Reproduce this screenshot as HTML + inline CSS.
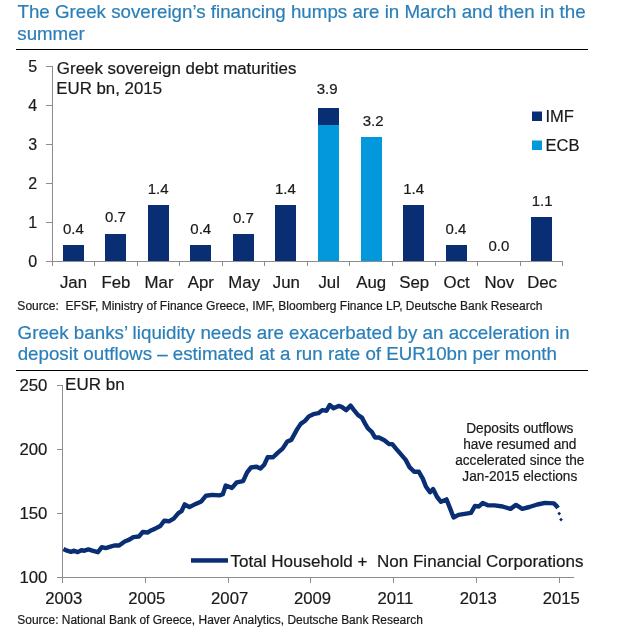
<!DOCTYPE html>
<html><head><meta charset="utf-8"><style>
html,body{margin:0;padding:0;background:#fff;width:634px;height:639px;overflow:hidden}
svg{display:block;will-change:transform}
text{font-family:"Liberation Sans", sans-serif;stroke-width:0.2px}
</style></head><body>
<svg width="634" height="639" viewBox="0 0 634 639">
<rect width="634" height="639" fill="#fff"/>
<text transform="translate(17.48,17.8) scale(1,1.03)" font-size="18.7" fill="#2a7fb8" stroke="#2a7fb8" textLength="568.15" lengthAdjust="spacingAndGlyphs">The Greek sovereign’s financing humps are in March and then in the</text>
<text transform="translate(17.3,39.9) scale(1,1.03)" font-size="18.7" fill="#2a7fb8" stroke="#2a7fb8" text-anchor="start" >summer</text>
<rect x="16" y="49" width="572" height="1" fill="#000"/>
<rect x="52" y="66" width="1" height="200" fill="#8c8c8c"/>
<rect x="46" y="261" width="6" height="1" fill="#8c8c8c"/>
<text x="37.2" y="267.1" font-size="16" fill="#1a1a1a" stroke="#1a1a1a" text-anchor="end" >0</text>
<rect x="46" y="222" width="6" height="1" fill="#8c8c8c"/>
<text x="37.2" y="228.1" font-size="16" fill="#1a1a1a" stroke="#1a1a1a" text-anchor="end" >1</text>
<rect x="46" y="183" width="6" height="1" fill="#8c8c8c"/>
<text x="37.2" y="189.1" font-size="16" fill="#1a1a1a" stroke="#1a1a1a" text-anchor="end" >2</text>
<rect x="46" y="144" width="6" height="1" fill="#8c8c8c"/>
<text x="37.2" y="150.1" font-size="16" fill="#1a1a1a" stroke="#1a1a1a" text-anchor="end" >3</text>
<rect x="46" y="105" width="6" height="1" fill="#8c8c8c"/>
<text x="37.2" y="111.1" font-size="16" fill="#1a1a1a" stroke="#1a1a1a" text-anchor="end" >4</text>
<rect x="46" y="66" width="6" height="1" fill="#8c8c8c"/>
<text x="37.2" y="72.1" font-size="16" fill="#1a1a1a" stroke="#1a1a1a" text-anchor="end" >5</text>
<rect x="52" y="261" width="511" height="1" fill="#8c8c8c"/>
<rect x="52" y="261" width="1" height="5" fill="#8c8c8c"/>
<rect x="94" y="261" width="1" height="5" fill="#8c8c8c"/>
<rect x="137" y="261" width="1" height="5" fill="#8c8c8c"/>
<rect x="179" y="261" width="1" height="5" fill="#8c8c8c"/>
<rect x="222" y="261" width="1" height="5" fill="#8c8c8c"/>
<rect x="264" y="261" width="1" height="5" fill="#8c8c8c"/>
<rect x="307" y="261" width="1" height="5" fill="#8c8c8c"/>
<rect x="349" y="261" width="1" height="5" fill="#8c8c8c"/>
<rect x="392" y="261" width="1" height="5" fill="#8c8c8c"/>
<rect x="435" y="261" width="1" height="5" fill="#8c8c8c"/>
<rect x="477" y="261" width="1" height="5" fill="#8c8c8c"/>
<rect x="520" y="261" width="1" height="5" fill="#8c8c8c"/>
<rect x="562" y="261" width="1" height="5" fill="#8c8c8c"/>
<text x="73.45" y="287.7" font-size="16.8" fill="#1a1a1a" stroke="#1a1a1a" text-anchor="middle" >Jan</text>
<text x="116.0" y="287.7" font-size="16.8" fill="#1a1a1a" stroke="#1a1a1a" text-anchor="middle" >Feb</text>
<text x="159.05" y="287.7" font-size="16.8" fill="#1a1a1a" stroke="#1a1a1a" text-anchor="middle" >Mar</text>
<text x="200.9" y="287.7" font-size="16.8" fill="#1a1a1a" stroke="#1a1a1a" text-anchor="middle" >Apr</text>
<text x="244.2" y="287.7" font-size="16.8" fill="#1a1a1a" stroke="#1a1a1a" text-anchor="middle" >May</text>
<text x="286.3" y="287.7" font-size="16.8" fill="#1a1a1a" stroke="#1a1a1a" text-anchor="middle" >Jun</text>
<text x="329.2" y="287.7" font-size="16.8" fill="#1a1a1a" stroke="#1a1a1a" text-anchor="middle" >Jul</text>
<text x="371.15" y="287.7" font-size="16.8" fill="#1a1a1a" stroke="#1a1a1a" text-anchor="middle" >Aug</text>
<text x="414.2" y="287.7" font-size="16.8" fill="#1a1a1a" stroke="#1a1a1a" text-anchor="middle" >Sep</text>
<text x="456.65" y="287.7" font-size="16.8" fill="#1a1a1a" stroke="#1a1a1a" text-anchor="middle" >Oct</text>
<text x="499.35" y="287.7" font-size="16.8" fill="#1a1a1a" stroke="#1a1a1a" text-anchor="middle" >Nov</text>
<text x="542.05" y="287.7" font-size="16.8" fill="#1a1a1a" stroke="#1a1a1a" text-anchor="middle" >Dec</text>
<rect x="63" y="245" width="21" height="16" fill="#0a2e74"/>
<rect x="105" y="234" width="21" height="27" fill="#0a2e74"/>
<rect x="148" y="205" width="21" height="56" fill="#0a2e74"/>
<rect x="190" y="245" width="21" height="16" fill="#0a2e74"/>
<rect x="233" y="234" width="21" height="27" fill="#0a2e74"/>
<rect x="275" y="205" width="21" height="56" fill="#0a2e74"/>
<rect x="318" y="108" width="21" height="17" fill="#0a2e74"/>
<rect x="318" y="125" width="21" height="136" fill="#0398dc"/>
<rect x="361" y="137" width="21" height="124" fill="#0398dc"/>
<rect x="403" y="205" width="21" height="56" fill="#0a2e74"/>
<rect x="446" y="245" width="21" height="16" fill="#0a2e74"/>
<rect x="531" y="217" width="21" height="44" fill="#0a2e74"/>
<text x="62.91" y="233.7" font-size="15" fill="#1a1a1a" stroke="#1a1a1a" text-anchor="start" >0.4</text>
<text x="105.11" y="222.4" font-size="15" fill="#1a1a1a" stroke="#1a1a1a" text-anchor="start" >0.7</text>
<text x="147.66" y="193.7" font-size="15" fill="#1a1a1a" stroke="#1a1a1a" text-anchor="start" >1.4</text>
<text x="190.31" y="233.9" font-size="15" fill="#1a1a1a" stroke="#1a1a1a" text-anchor="start" >0.4</text>
<text x="232.91" y="222.5" font-size="15" fill="#1a1a1a" stroke="#1a1a1a" text-anchor="start" >0.7</text>
<text x="274.96" y="194.1" font-size="15" fill="#1a1a1a" stroke="#1a1a1a" text-anchor="start" >1.4</text>
<text x="316.68" y="93.5" font-size="15" fill="#1a1a1a" stroke="#1a1a1a" text-anchor="start" >3.9</text>
<text x="362.73" y="125.5" font-size="15" fill="#1a1a1a" stroke="#1a1a1a" text-anchor="start" >3.2</text>
<text x="403.26" y="193.8" font-size="15" fill="#1a1a1a" stroke="#1a1a1a" text-anchor="start" >1.4</text>
<text x="445.61" y="233.7" font-size="15" fill="#1a1a1a" stroke="#1a1a1a" text-anchor="start" >0.4</text>
<text x="488.41" y="250.7" font-size="15" fill="#1a1a1a" stroke="#1a1a1a" text-anchor="start" >0.0</text>
<text x="531.76" y="205.6" font-size="15" fill="#1a1a1a" stroke="#1a1a1a" text-anchor="start" >1.1</text>
<text transform="translate(56.85,73.6)" font-size="17" fill="#1a1a1a" stroke="#1a1a1a" textLength="239.56" lengthAdjust="spacingAndGlyphs">Greek sovereign debt maturities</text>
<text transform="translate(56.32,93.8)" font-size="17" fill="#1a1a1a" stroke="#1a1a1a" textLength="105.69" lengthAdjust="spacingAndGlyphs">EUR bn, 2015</text>
<rect x="532" y="111.5" width="10" height="9.5" fill="#0a2e74"/>
<text x="545.5" y="121.7" font-size="16.5" fill="#1a1a1a" stroke="#1a1a1a" text-anchor="start" >IMF</text>
<rect x="532" y="140.5" width="10" height="9.5" fill="#0398dc"/>
<text x="545.5" y="150.5" font-size="16.5" fill="#1a1a1a" stroke="#1a1a1a" text-anchor="start" >ECB</text>
<text transform="translate(17.36,309.6)" font-size="12" fill="#1a1a1a" stroke="#1a1a1a" textLength="525.02" lengthAdjust="spacingAndGlyphs">Source:  EFSF, Ministry of Finance Greece, IMF, Bloomberg Finance LP, Deutsche Bank Research</text>
<text transform="translate(17.56,338.7) scale(1,1.03)" font-size="18.7" fill="#2a7fb8" stroke="#2a7fb8" textLength="552.06" lengthAdjust="spacingAndGlyphs">Greek banks’ liquidity needs are exacerbated by an acceleration in</text>
<text transform="translate(17.71,360.3) scale(1,1.03)" font-size="18.7" fill="#2a7fb8" stroke="#2a7fb8" textLength="539.20" lengthAdjust="spacingAndGlyphs">deposit outflows – estimated at a run rate of EUR10bn per month</text>
<rect x="16" y="370" width="572" height="1" fill="#000"/>
<rect x="62" y="385" width="1" height="197" fill="#8c8c8c"/>
<rect x="57" y="577" width="5" height="1" fill="#8c8c8c"/>
<text x="47.4" y="583.0" font-size="16.8" fill="#1a1a1a" stroke="#1a1a1a" text-anchor="end" >100</text>
<rect x="57" y="513" width="5" height="1" fill="#8c8c8c"/>
<text x="47.4" y="519.1" font-size="16.8" fill="#1a1a1a" stroke="#1a1a1a" text-anchor="end" >150</text>
<rect x="57" y="449" width="5" height="1" fill="#8c8c8c"/>
<text x="47.4" y="455.2" font-size="16.8" fill="#1a1a1a" stroke="#1a1a1a" text-anchor="end" >200</text>
<rect x="57" y="385" width="5" height="1" fill="#8c8c8c"/>
<text x="47.4" y="391.3" font-size="16.8" fill="#1a1a1a" stroke="#1a1a1a" text-anchor="end" >250</text>
<rect x="62" y="577" width="512" height="1" fill="#8c8c8c"/>
<rect x="62" y="577" width="1" height="6" fill="#8c8c8c"/>
<text x="63.85" y="604" font-size="16.7" fill="#1a1a1a" stroke="#1a1a1a" text-anchor="middle" >2003</text>
<rect x="145" y="577" width="1" height="6" fill="#8c8c8c"/>
<text x="146.75" y="604" font-size="16.7" fill="#1a1a1a" stroke="#1a1a1a" text-anchor="middle" >2005</text>
<rect x="228" y="577" width="1" height="6" fill="#8c8c8c"/>
<text x="229.65" y="604" font-size="16.7" fill="#1a1a1a" stroke="#1a1a1a" text-anchor="middle" >2007</text>
<rect x="310" y="577" width="1" height="6" fill="#8c8c8c"/>
<text x="312.55" y="604" font-size="16.7" fill="#1a1a1a" stroke="#1a1a1a" text-anchor="middle" >2009</text>
<rect x="393" y="577" width="1" height="6" fill="#8c8c8c"/>
<text x="395.45" y="604" font-size="16.7" fill="#1a1a1a" stroke="#1a1a1a" text-anchor="middle" >2011</text>
<rect x="476" y="577" width="1" height="6" fill="#8c8c8c"/>
<text x="478.35" y="604" font-size="16.7" fill="#1a1a1a" stroke="#1a1a1a" text-anchor="middle" >2013</text>
<rect x="559" y="577" width="1" height="6" fill="#8c8c8c"/>
<text x="561.25" y="604" font-size="16.7" fill="#1a1a1a" stroke="#1a1a1a" text-anchor="middle" >2015</text>
<text transform="translate(65.11,390.2)" font-size="17" fill="#1a1a1a" stroke="#1a1a1a" textLength="59.50" lengthAdjust="spacingAndGlyphs">EUR bn</text>
<polyline points="63.4,549.0 67.1,550.7 71.0,551.8 74.2,550.7 77.7,552.1 81.3,550.3 84.4,550.7 88.4,549.4 92.3,550.7 97.9,552.2 101.8,547.2 105.7,548.1 110.5,546.7 114.4,545.5 119.1,545.5 124.7,541.5 129.4,539.6 133.3,537.1 138.9,536.5 142.8,532.0 147.5,532.5 151.5,530.2 154.7,528.9 160.3,526.0 164.2,520.7 168.9,521.3 173.7,518.6 178.4,513.1 181.5,511.2 184.7,504.4 189.4,507.1 195.7,503.9 201.3,501.4 206.0,495.7 212.3,494.9 219.4,495.4 222.9,494.2 225.7,485.5 232.0,487.9 236.8,482.3 243.1,481.2 247.1,472.3 251.0,467.5 256.6,466.7 260.5,468.6 264.4,464.4 267.6,457.3 273.1,457.3 277.9,452.6 282.6,448.6 287.3,441.5 291.3,439.9 296.9,429.6 300.7,423.9 305.1,420.8 308.9,416.4 313.3,414.2 318.4,413.2 322.2,410.1 326.6,410.7 329.7,405.0 333.5,408.2 338.6,405.9 341.7,406.9 346.2,410.1 350.6,405.6 354.4,410.7 358.1,415.1 361.9,417.6 365.1,423.6 367.9,428.4 371.8,431.8 375.0,437.5 378.9,437.5 384.4,440.2 389.1,444.1 392.3,444.1 396.2,448.9 401.0,454.4 405.7,459.9 409.5,467.1 414.2,471.8 418.9,471.8 422.9,478.9 426.0,486.8 430.0,492.3 433.1,489.1 437.1,497.0 441.0,501.8 446.5,499.4 449.7,507.3 453.6,517.5 458.4,514.9 464.7,513.9 471.0,512.8 474.9,506.0 478.9,506.5 482.8,502.9 488.3,505.4 494.6,505.4 502.6,506.5 510.5,508.9 516.0,504.9 522.3,508.9 529.4,507.0 537.3,504.5 545.2,502.9 553.9,503.4 556.6,506.1 558.0,508.1" fill="none" stroke="#0a2e74" stroke-width="4.4" stroke-linejoin="round" stroke-linecap="butt"/>
<rect x="557.9" y="512.3" width="2.6" height="2.6" fill="#0a2660" transform="rotate(45 559.2 513.6)"/>
<rect x="559.7" y="518.3" width="2.6" height="2.6" fill="#0a2660" transform="rotate(45 561 519.6)"/>
<rect x="191" y="558.2" width="37" height="4.5" fill="#0a2e74"/>
<text transform="translate(230.42,566.5)" font-size="17" fill="#1a1a1a" stroke="#1a1a1a" textLength="353.19" lengthAdjust="spacingAndGlyphs">Total Household +  Non Financial Corporations</text>
<text transform="translate(519.8,432.8) scale(1,1.07)" font-size="13.7" fill="#1a1a1a" stroke="#1a1a1a" text-anchor="middle" >Deposits outflows</text>
<text transform="translate(519.8,449.0) scale(1,1.07)" font-size="13.7" fill="#1a1a1a" stroke="#1a1a1a" text-anchor="middle" >have resumed and</text>
<text transform="translate(519.8,465.2) scale(1,1.07)" font-size="13.7" fill="#1a1a1a" stroke="#1a1a1a" text-anchor="middle" >accelerated since the</text>
<text transform="translate(519.8,481.3) scale(1,1.07)" font-size="13.7" fill="#1a1a1a" stroke="#1a1a1a" text-anchor="middle" >Jan-2015 elections</text>
<text transform="translate(17.36,623.6)" font-size="12" fill="#1a1a1a" stroke="#1a1a1a" textLength="405.42" lengthAdjust="spacingAndGlyphs">Source: National Bank of Greece, Haver Analytics, Deutsche Bank Research</text>
</svg>
</body></html>
